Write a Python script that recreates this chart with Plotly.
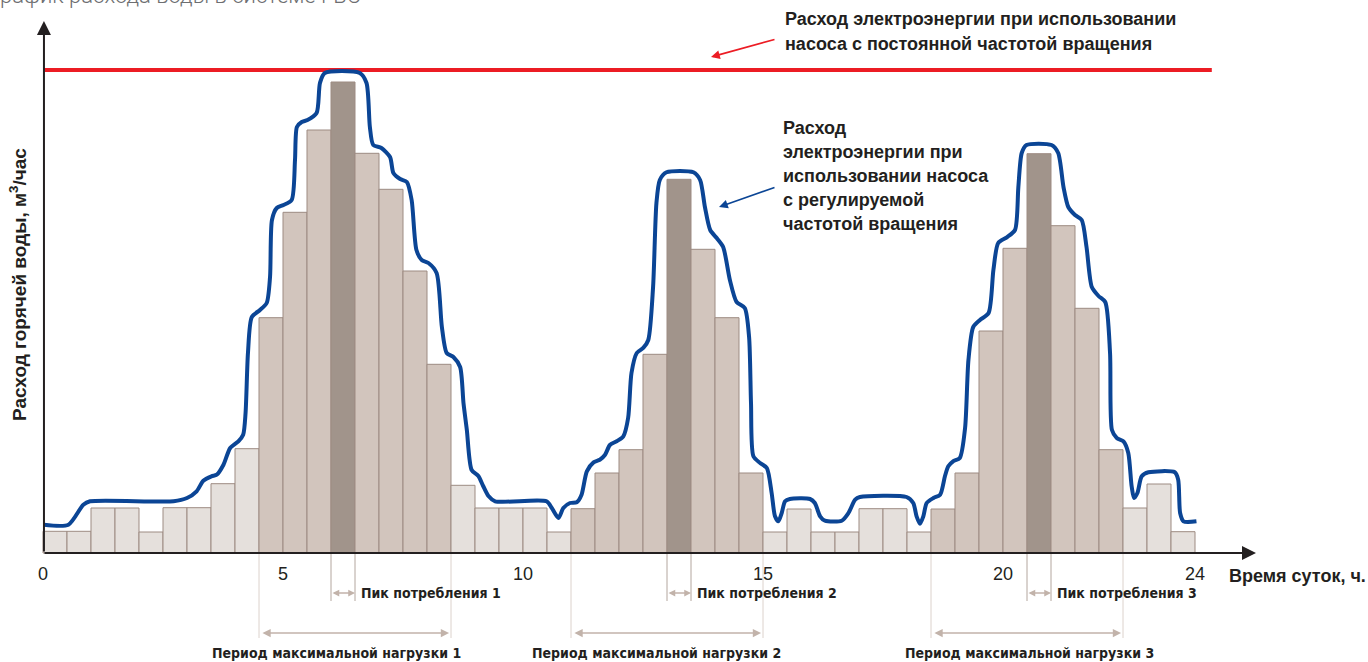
import plotly.graph_objects as go

# ---------------- data ----------------
# half-hour slots (start time, h)
slot_start = [0.0, 0.5, 1.0, 1.5, 2.0, 2.5, 3.0, 3.5, 4.0, 4.5, 5.0, 5.5,
              6.0, 6.5, 7.0, 7.5, 8.0, 8.5, 9.0, 9.5, 10.0, 10.5, 11.0, 11.5,
              12.0, 12.5, 13.0, 13.5, 14.0, 14.5, 15.0, 15.5, 16.0, 16.5, 17.0, 17.5,
              18.0, 18.5, 19.0, 19.5, 20.0, 20.5, 21.0, 21.5, 22.0, 22.5, 23.0, 23.5]
# hot water flow per slot (relative units)
water_flow = [2.17, 2.17, 4.5, 4.5, 2.1, 4.53, 4.53, 6.93, 10.43, 23.53, 34.07, 42.3,
              47.1, 39.97, 36.37, 28.2, 18.87, 6.77, 4.5, 4.5, 4.5, 2.1, 4.43, 8.0,
              10.33, 19.87, 37.37, 30.37, 23.53, 8.0, 2.1, 4.4, 2.1, 2.1, 4.43, 4.43,
              2.1, 4.4, 8.0, 22.2, 30.47, 39.93, 32.73, 24.47, 10.33, 4.5, 6.9, 2.13]

max_load_periods = [(4.5, 8.5), (11.0, 15.0), (18.5, 22.5)]
peak_periods = [(6.0, 6.5), (13.0, 13.5), (20.5, 21.0)]

# constant-speed pump energy use (level) and its time span
const_pump_level = 48.3
const_pump_span = [0.0, 24.35]

# variable-speed pump energy use (curve)
var_pump_t = [0.02, 0.53, 0.84, 0.98, 2.72, 3.00, 3.20, 3.34, 3.51, 3.62, 3.76, 3.90,
              4.07, 4.17, 4.22, 4.27, 4.35, 4.52, 4.66, 4.73, 4.77, 4.87, 5.01, 5.18,
              5.25, 5.29, 5.39, 5.51, 5.70, 5.77, 5.87, 6.60, 6.74, 6.81, 6.88, 7.05,
              7.23, 7.30, 7.44, 7.58, 7.68, 7.78, 7.89, 8.03, 8.20, 8.31, 8.41, 8.55,
              8.69, 8.76, 8.83, 8.93, 9.07, 9.17, 9.28, 9.42, 10.49, 10.60, 10.74, 10.84,
              10.98, 11.12, 11.22, 11.33, 11.47, 11.60, 11.71, 11.81, 11.95, 12.09, 12.19, 12.26,
              12.37, 12.51, 12.61, 12.71, 12.78, 12.85, 12.99, 13.55, 13.69, 13.79, 13.90, 14.04,
              14.17, 14.31, 14.45, 14.62, 14.71, 14.75, 14.80, 14.94, 15.08, 15.18, 15.25, 15.32,
              15.39, 15.46, 15.56, 15.98, 16.08, 16.19, 16.29, 16.64, 16.78, 16.92, 17.02, 17.99,
              18.13, 18.20, 18.27, 18.34, 18.41, 18.55, 18.69, 18.79, 18.86, 18.96, 19.10, 19.21,
              19.28, 19.38, 19.52, 19.70, 19.80, 19.90, 20.08, 20.25, 20.32, 20.39, 20.49, 21.01,
              21.15, 21.26, 21.36, 21.50, 21.64, 21.74, 21.85, 21.99, 22.13, 22.23, 22.27, 22.37,
              22.51, 22.61, 22.68, 22.73, 22.80, 22.89, 23.03, 23.58, 23.65, 23.69, 23.76, 24.03]
var_pump_v = [2.83, 2.83, 4.83, 5.17, 5.17, 5.5, 6.17, 7.23, 7.67, 7.83, 8.83, 10.5,
              11.17, 11.83, 14.0, 20.0, 23.6, 24.3, 25.0, 27.6, 33.3, 34.5, 34.8, 35.3,
              39.3, 42.6, 43.1, 43.3, 44.0, 47.0, 48.0, 48.0, 47.0, 42.6, 40.8, 40.5,
              39.6, 38.0, 37.4, 37.1, 35.3, 30.3, 29.3, 29.0, 28.0, 22.6, 20.0, 19.6,
              18.6, 15.0, 12.3, 8.3, 7.7, 6.7, 5.7, 5.17, 5.17, 4.5, 3.5, 4.5,
              5.0, 5.07, 5.83, 8.17, 9.07, 9.33, 9.83, 10.8, 11.17, 11.67, 13.5, 18.0,
              20.0, 20.53, 21.3, 26.6, 35.0, 37.3, 38.07, 38.07, 37.3, 34.6, 32.3, 31.47,
              30.6, 27.3, 25.1, 24.5, 21.6, 15.0, 9.67, 9.0, 8.5, 6.0, 3.67, 3.17,
              4.0, 5.17, 5.4, 5.4, 5.0, 3.67, 3.23, 3.23, 4.0, 5.33, 5.6, 5.6,
              5.0, 3.67, 2.93, 3.67, 5.0, 5.5, 5.83, 7.67, 8.67, 9.17, 9.5, 12.5,
              19.3, 22.6, 23.3, 24.0, 28.3, 31.0, 31.57, 32.3, 36.6, 40.0, 40.8, 40.8,
              40.0, 36.6, 34.6, 33.8, 33.3, 30.6, 26.6, 25.7, 25.1, 20.0, 12.3, 11.5,
              11.17, 10.0, 6.67, 5.5, 6.0, 7.67, 8.07, 8.07, 7.33, 4.0, 3.17, 3.17]

tick_values = [0, 5, 10, 15, 20, 24]
tick_labels = ["0", "5", "10", "15", "20", "24"]

title_text = "График расхода воды в системе ГВС"
y_title = "Расход горячей воды, м<sup>3</sup>/час"
x_title = "Время суток, ч."
const_label = ["Расход электроэнергии при использовании",
               "насоса с постоянной частотой вращения"]
var_label = ["Расход", "электроэнергии при", "использовании насоса",
             "с регулируемой", "частотой вращения"]
peak_labels = ["Пик потребления 1", "Пик потребления 2", "Пик потребления 3"]
period_labels = ["Период максимальной нагрузки 1", "Период максимальной нагрузки 2",
                 "Период максимальной нагрузки 3"]

# ---------------- styles ----------------
W, H = 1368, 662
X0_PX, BASE_PX = 43, 553       # pixel of t=0 and of flow=0
PX_PER_H, PX_PER_U = 48, 10

C_LIGHT, C_MED, C_DARK = "#e5e0dc", "#d2c5bd", "#a1948b"
C_EDGE = "#9d8b82"
C_RED, C_BLUE = "#ec1c24", "#0b4595"
C_TEXT = "#231f20"
C_GUIDE_PERIOD, C_GUIDE_PEAK, C_ARROW = "#dcd2cc", "#b3a69e", "#c2b3aa"
FONT = "Liberation Sans, Arial, sans-serif"
FONT_NARROW = "DejaVu Sans Condensed, Liberation Sans, sans-serif"


def in_any(t, spans):
    return any(a <= t < b for a, b in spans)


bar_colors = []
for t in slot_start:
    if in_any(t, peak_periods):
        bar_colors.append(C_DARK)
    elif in_any(t, max_load_periods):
        bar_colors.append(C_MED)
    else:
        bar_colors.append(C_LIGHT)


def hx(px):
    return (px - X0_PX) / PX_PER_H


def vy(py):
    return (BASE_PX - py) / PX_PER_U


fig = go.Figure()

fig.add_trace(go.Bar(x=slot_start, y=water_flow, offset=0, width=0.5,
                     marker=dict(color=bar_colors, line=dict(color=C_EDGE, width=1)),
                     hoverinfo="skip"))

fig.add_trace(go.Scatter(x=const_pump_span, y=[const_pump_level] * 2, mode="lines",
                         line=dict(color=C_RED, width=4), hoverinfo="skip"))

fig.add_trace(go.Scatter(x=var_pump_t, y=var_pump_v, mode="lines",
                         line=dict(color=C_BLUE, width=4, shape="spline", smoothing=0.7),
                         hoverinfo="skip"))

# guide lines below the axis
for a, b in max_load_periods:
    for t in (a, b):
        fig.add_trace(go.Scatter(x=[t, t], y=[0, vy(638)], mode="lines",
                                 line=dict(color=C_GUIDE_PERIOD, width=1), hoverinfo="skip"))
for a, b in peak_periods:
    for t in (a, b):
        fig.add_trace(go.Scatter(x=[t, t], y=[0, vy(601)], mode="lines",
                                 line=dict(color=C_GUIDE_PEAK, width=1), hoverinfo="skip"))

ann = []


def arrow(x, y, ax, ay, color, width, size, head=2, both=False):
    d = dict(x=x, y=y, ax=ax, ay=ay, xref="x", yref="y", axref="x", ayref="y",
             text="", showarrow=True, arrowhead=head, arrowsize=size,
             arrowwidth=width, arrowcolor=color)
    if both:
        d.update(arrowside="end+start", startarrowhead=head, startarrowsize=size)
    ann.append(d)


def label(x, y, text, size, xanchor="left", bold=True, color=C_TEXT, angle=0, family=FONT):
    ann.append(dict(x=x, y=y, xref="x", yref="y", text=text, showarrow=False,
                    xanchor=xanchor, yanchor="middle", textangle=angle,
                    font=dict(family=family, size=size, color=color,
                              weight="bold" if bold else "normal")))


# axes arrows
arrow(hx(1256), 0, 0, 0, C_TEXT, 2, 1.4)
arrow(0.02, vy(21), 0.02, 0, C_TEXT, 2, 1.4)

# pointer arrows
arrow(hx(711), vy(57), hx(776), vy(39), C_RED, 1.6, 1.1)
arrow(hx(719), vy(207), hx(776), vy(187), C_BLUE, 1.6, 1.1)

# peak / period arrows and labels
for (a, b), txt in zip(peak_periods, peak_labels):
    arrow(b, vy(593), a, vy(593), C_ARROW, 1.5, 0.9, both=True)
    label(b + 0.09, vy(593), txt, 14, family=FONT_NARROW)
period_shift_px = [-19, -11, 2]
for (a, b), txt, sh in zip(max_load_periods, period_labels, period_shift_px):
    arrow(b - 0.04, vy(633), a + 0.04, vy(633), C_ARROW, 1.5, 1.1, both=True)
    label((a + b) / 2 + sh / PX_PER_H, vy(653), txt, 14, xanchor="center",
          family=FONT_NARROW)

# legend-like texts
for i, line in enumerate(const_label):
    label(hx(783), vy(19 + 25 * i), line, 18)
for i, line in enumerate(var_label):
    label(hx(781), vy(128 + 24 * i), line, 18)

# axis titles
label(hx(1227), vy(576), x_title, 18)
label(hx(18), vy(285), y_title, 19, xanchor="center", angle=-90)

# chart title (partly cut off at the top)
ann.append(dict(x=-12 / W, y=1 + 4.5 / H, xref="paper", yref="paper", text=title_text,
                showarrow=False, xanchor="left", yanchor="middle",
                font=dict(family="Roboto, Liberation Sans, sans-serif", size=22,
                          color="#6d6e71", weight=300)))

fig.update_layout(
    width=W, height=H, margin=dict(l=0, r=0, t=0, b=0),
    paper_bgcolor="white", plot_bgcolor="white", showlegend=False,
    annotations=ann,
    xaxis=dict(range=[hx(0), hx(W)], anchor="free", position=(H - BASE_PX) / H,
               tickvals=tick_values, ticktext=tick_labels, ticks="",
               ticklabelstandoff=8,
               showgrid=False, zeroline=False, showline=False,
               tickfont=dict(family=FONT, size=18, color=C_TEXT)),
    yaxis=dict(range=[vy(H), vy(0)], visible=False),
)

fig.write_html("out.html", config={"displayModeBar": False},
               post_script="document.body.style.margin='0';document.body.style.overflow='hidden';")
